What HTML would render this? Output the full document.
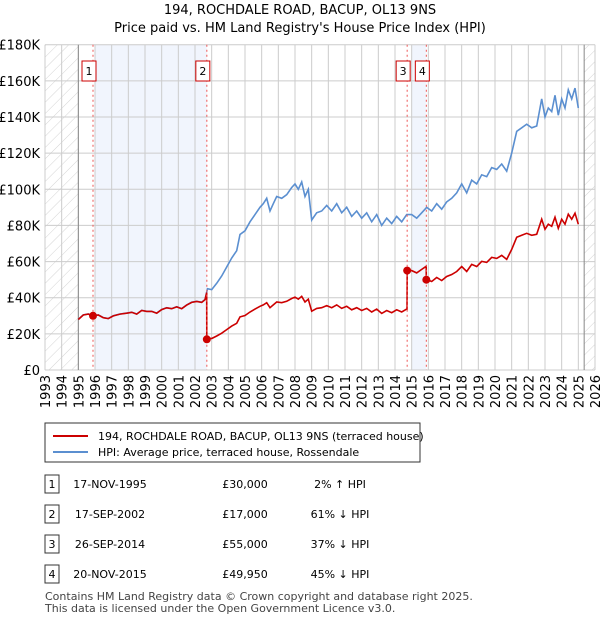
<!DOCTYPE html>
<html><head><meta charset="utf-8"><style>
body{margin:0;background:#fff;font-family:"Liberation Sans","DejaVu Sans",sans-serif;}
svg text{font-family:"DejaVu Sans","Liberation Sans",sans-serif;}
</style></head><body>
<svg id="c" width="600" height="620" xmlns="http://www.w3.org/2000/svg">
<defs><pattern id="hatch" width="8" height="8" patternUnits="userSpaceOnUse" patternTransform="rotate(45)"><line x1="0" y1="0" x2="0" y2="8" stroke="#d4d4d4" stroke-width="1"/></pattern></defs>
<text x="300" y="14" text-anchor="middle" font-size="13">194, ROCHDALE ROAD, BACUP, OL13 9NS</text>
<text x="300" y="32" text-anchor="middle" font-size="13">Price paid vs. HM Land Registry's House Price Index (HPI)</text>
<g id="plot"></g>
<g>
<rect x="45" y="423" width="375" height="39" fill="#fff" stroke="#333"/>
<line x1="53" y1="436" x2="88" y2="436" stroke="#cc0000" stroke-width="2"/>
<text x="98" y="440" font-size="11">194, ROCHDALE ROAD, BACUP, OL13 9NS (terraced house)</text>
<line x1="53" y1="452" x2="88" y2="452" stroke="#5b8fd0" stroke-width="2"/>
<text x="98" y="456" font-size="11">HPI: Average price, terraced house, Rossendale</text>
</g>
<g id="tbl" font-size="11"></g>
<text x="45" y="600" font-size="11" fill="#444">Contains HM Land Registry data © Crown copyright and database right 2025.</text>
<text x="45" y="612" font-size="11" fill="#444">This data is licensed under the Open Government Licence v3.0.</text>
</svg>
<script>
const hpiYears=[1995.0,1995.3,1995.6,1995.9,1996.2,1996.5,1996.8,1997.1,1997.5,1997.9,1998.2,1998.5,1998.8,1999.1,1999.4,1999.7,2000.0,2000.3,2000.6,2000.9,2001.2,2001.5,2001.8,2002.1,2002.4,2002.6,2002.75,2003.0,2003.3,2003.6,2003.9,2004.2,2004.5,2004.7,2005.0,2005.3,2005.6,2005.9,2006.1,2006.3,2006.5,2006.7,2006.9,2007.2,2007.5,2007.8,2008.0,2008.2,2008.4,2008.6,2008.8,2009.0,2009.3,2009.6,2009.9,2010.2,2010.5,2010.8,2011.1,2011.4,2011.7,2012.0,2012.3,2012.6,2012.9,2013.2,2013.5,2013.8,2014.1,2014.4,2014.7,2015.0,2015.3,2015.6,2015.9,2016.2,2016.5,2016.8,2017.1,2017.4,2017.7,2018.0,2018.3,2018.6,2018.9,2019.2,2019.5,2019.8,2020.1,2020.4,2020.7,2021.0,2021.3,2021.6,2021.9,2022.2,2022.5,2022.8,2023.0,2023.2,2023.4,2023.6,2023.8,2024.0,2024.2,2024.4,2024.6,2024.8,2025.0,2025.1,2025.2,2025.3];
const hpiValues=[28,30.5,31,30,30.5,29,28.5,30,31,31.5,32,31,33,32.5,32.5,31.5,33.5,34.5,34,35,34,36,37.5,38,37.5,39,45,44.5,48,52,57,62,66,75,77,82,86,90,92,95,88,92,96,95,97,101,103,100,104,96,100,83,87,88,91,88,92,87,90,85,88,84,87,82,86,80,84,81,85,82,86,86,84,87,90,88,92,89,93,95,98,103,98,105,103,108,107,112,111,114,110,120,132,134,136,134,135,150,140,145,143,152,141,150,145,155,150,156,145];
const saleYears=[1995.88,2002.71,2014.73,2015.88];
const salePrices=[30000,17000,55000,49950];
const saleLabels=["1","2","3","4"];
const saleDates=["17-NOV-1995","17-SEP-2002","26-SEP-2014","20-NOV-2015"];
const saleDiffs=["2% \u2191 HPI","61% \u2193 HPI","37% \u2193 HPI","45% \u2193 HPI"];
const yTicks=[0,20,40,60,80,100,120,140,160,180];
const xTicks=[];for(let y=1993;y<=2026;y++)xTicks.push(y);

const X0=45,X1=595,Y0=370,Y1=44.7;
const xs=y=>X0+(y-1993)/33*(X1-X0);
const ys=v=>Y0-v/180*(Y0-Y1);
const NS="http://www.w3.org/2000/svg";
const plot=document.getElementById('plot');
function mk(tag,attrs,parent){const e=document.createElementNS(NS,tag);for(const k in attrs)e.setAttribute(k,attrs[k]);(parent||plot).appendChild(e);return e;}
function hpiAt(y){for(let i=0;i<hpiYears.length-1;i++){if(y>=hpiYears[i]&&y<=hpiYears[i+1]){const t=(y-hpiYears[i])/(hpiYears[i+1]-hpiYears[i]);return hpiValues[i]+t*(hpiValues[i+1]-hpiValues[i]);}}return hpiValues[hpiValues.length-1];}

let r=mk('rect',{x:xs(1993),y:Y1,width:xs(1995)-xs(1993),height:Y0-Y1,fill:'url(#hatch)'});


r=mk('rect',{x:xs(2025.35),y:Y1,width:X1-xs(2025.35),height:Y0-Y1,fill:'url(#hatch)'});


r=mk('rect',{x:xs(1996),y:Y1,width:xs(2002.71)-xs(1996),height:Y0-Y1,fill:'#eef3fc',opacity:0.8});


r=mk('rect',{x:xs(2015),y:Y1,width:xs(2015.88)-xs(2015),height:Y0-Y1,fill:'#eef3fc',opacity:0.8});



yTicks.forEach(v=>{
 const l=mk('line',{x1:X0,x2:X1,y1:ys(v),y2:ys(v),stroke:'#ccc','stroke-width':1});
 
 
 const t=mk('text',{x:X0-5,y:ys(v)+5,'text-anchor':'end','font-size':13});
 t.textContent=v===0?'£0':'£'+v+'K';
 
 
});
xTicks.forEach(y=>{
 const l=mk('line',{x1:xs(y),x2:xs(y),y1:Y1,y2:Y0,stroke:'#ccc','stroke-width':1});
 
 
 const t=mk('text',{x:0,y:0,'text-anchor':'end','font-size':13,transform:`translate(${xs(y)+5},375) rotate(-90)`});
 t.textContent=y;
 
 
});
mk('line',{x1:xs(1995),x2:xs(1995),y1:Y1,y2:Y0,stroke:'#888'});
mk('line',{x1:xs(2025.35),x2:xs(2025.35),y1:Y1,y2:Y0,stroke:'#888'});

let d=hpiYears.map((y,i)=>(i?'L':'M')+xs(y).toFixed(1)+','+ys(hpiValues[i]).toFixed(1)).join('');
let p=mk('path',{d:d,fill:'none',stroke:'#5b8fd0','stroke-width':1.6});



function factorAt(y){let k=0;for(let i=0;i<saleYears.length;i++)if(y>=saleYears[i])k=i;return salePrices[k]/1000/hpiAt(saleYears[k]);}
const pts=[];
hpiYears.forEach((y,i)=>{
 saleYears.forEach((s,j)=>{if(s>(i?hpiYears[i-1]:0)&&s<=y&&j>0){pts.push([s-0.01,hpiAt(s-0.01)*factorAt(s-0.01)]);pts.push([s,salePrices[j]/1000]);}});
 pts.push([y,hpiValues[i]*factorAt(y)]);
});
d=pts.map((q,i)=>(i?'L':'M')+xs(q[0]).toFixed(1)+','+ys(q[1]).toFixed(1)).join('');
p=mk('path',{d:d,fill:'none',stroke:'#cc0000','stroke-width':1.6});



const tbl=document.getElementById('tbl');
const rowY=[486,516,546,576];
saleYears.forEach((s,i)=>{
 const l=mk('line',{x1:xs(s),x2:xs(s),y1:Y1,y2:Y0,stroke:'#e55','stroke-width':1,'stroke-dasharray':'2,3'});
 
 
 const c=mk('circle',{cx:xs(s),cy:ys(salePrices[i]/1000),r:4,fill:'#cc0000'});
 
 
 const bx=xs(s)-11;
 const b=mk('rect',{x:bx,y:61,width:14,height:20,fill:'#fff',stroke:'#cc0000'});
 
 
 const t=mk('text',{x:bx+7,y:75,'text-anchor':'middle','font-size':11});
 t.textContent=saleLabels[i];
 
 
 const rb=mk('rect',{x:45,y:rowY[i]-11,width:14,height:18,fill:'#fff',stroke:'#333'},tbl);
 
 
 const cells=[[52,saleLabels[i],'middle'],[110,saleDates[i],'middle'],[245,'£'+salePrices[i].toLocaleString('en-GB'),'middle'],[340,saleDiffs[i],'middle']];
 cells.forEach(cl=>{const tt=mk('text',{x:cl[0],y:rowY[i]+2,'text-anchor':cl[2],'font-size':11},tbl);tt.textContent=cl[1];
  
  });
});
</script>
</body></html>
